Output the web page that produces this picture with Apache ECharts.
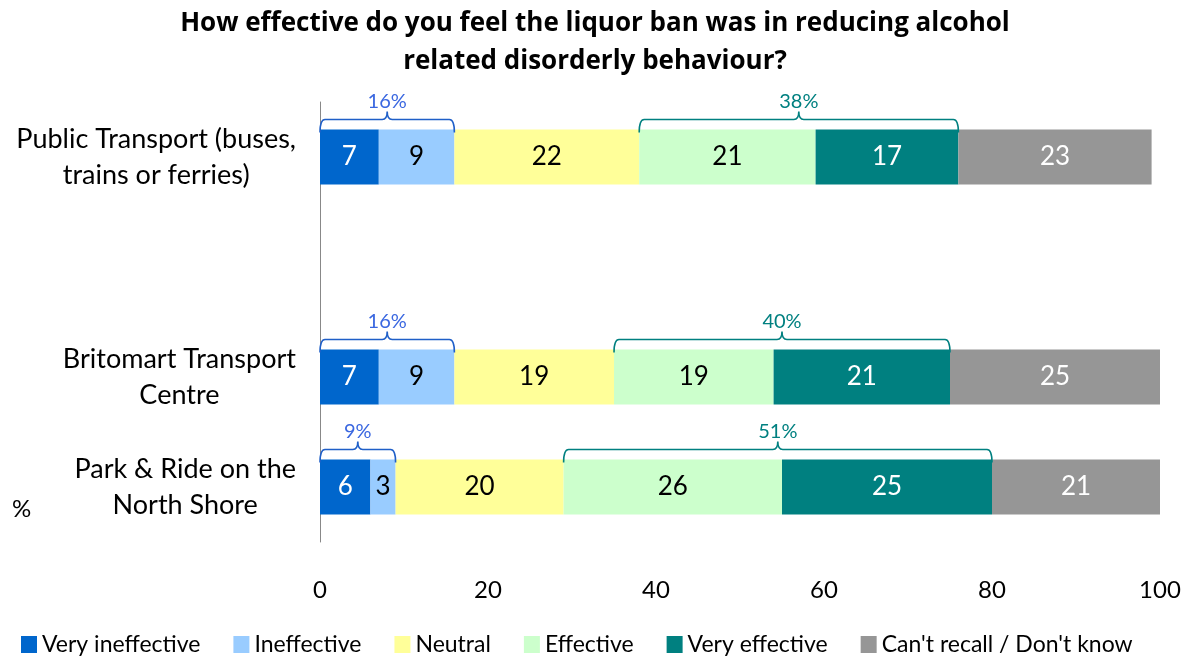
<!DOCTYPE html>
<html>
<head>
<meta charset="utf-8">
<title>Liquor ban effectiveness</title>
<script src="https://cdn.jsdelivr.net/npm/echarts@6/dist/echarts.min.js"></script>
<style>
  html, body { margin: 0; padding: 0; background: #fff; }
  #chart { width: 1188px; height: 658px; }
</style>
</head>
<body>
<div id="chart"></div>
<script>
// Locations, top to bottom; the empty entry keeps the gap under Public Transport.
const categories = [
  'Public Transport (buses,\ntrains or ferries)',
  '',
  'Britomart Transport\nCentre',
  'Park & Ride on the\nNorth Shore'
];
const seriesNames = ['Very ineffective', 'Ineffective', 'Neutral', 'Effective', 'Very effective', "Can't recall / Don't know"];
const veryIneffective = [7, null, 7, 6];
const ineffective     = [9, null, 9, 3];
const neutral         = [22, null, 19, 20];
const effective       = [21, null, 19, 26];
const veryEffective   = [17, null, 21, 25];
const cantRecall      = [23, null, 25, 21];
const xTicks = [0, 20, 40, 60, 80, 100];

const colors = ['#0066CC', '#99CCFF', '#FFFF99', '#CCFFCC', '#008080', '#969696'];
const labelColors = ['#fff', '#000', '#000', '#000', '#fff', '#fff'];
const FONT = 'Lato';

const values = [veryIneffective, ineffective, neutral, effective, veryEffective, cantRecall];

const barSeries = values.map((arr, i) => ({
  name: seriesNames[i],
  type: 'bar',
  stack: 'total',
  barWidth: '50%',
  itemStyle: { color: colors[i] },
  label: {
    show: true,
    position: 'inside',
    color: labelColors[i],
    fontFamily: FONT,
    fontSize: 26,
    formatter: p => (p.value == null ? '' : p.value)
  },
  emphasis: { disabled: true },
  data: arr
}));

// Net brackets: ineffective total (left) and effective total (right)
const brackets = [];
categories.forEach((c, k) => {
  if (veryIneffective[k] == null) return;
  const neg = veryIneffective[k] + ineffective[k];
  const posStart = neg + neutral[k];
  const pos = effective[k] + veryEffective[k];
  brackets.push({ value: [k, 0, neg, neg + '%'], color: '#3A67E0', line: '#1F5FC8' });
  brackets.push({ value: [k, posStart, posStart + pos, pos + '%'], color: '#008080', line: '#008080' });
});

const bracketSeries = {
  type: 'custom',
  coordinateSystem: 'cartesian2d',
  silent: true,
  z: 5,
  encode: { x: [1, 2], y: 0 },
  renderItem(params, api) {
    const k = api.value(0);
    const a = api.coord([api.value(1), k]);
    const b = api.coord([api.value(2), k]);
    const band = api.size([0, 1])[1];
    const top = a[1] - band * 0.25;
    const y = top - 10;
    const x0 = a[0], x1 = b[0], mid = (x0 + x1) / 2, r = 5;
    const item = brackets[params.dataIndex];
    const path = [
      'M', x0, top + 3,
      'Q', x0, y, x0 + r, y,
      'L', mid - r, y,
      'Q', mid, y, mid, y - 8,
      'Q', mid, y, mid + r, y,
      'L', x1 - r, y,
      'Q', x1, y, x1, top + 3
    ].join(' ');
    return {
      type: 'group',
      children: [
        {
          type: 'path',
          shape: { pathData: path },
          style: { fill: null, stroke: item.line, lineWidth: 1.6 }
        },
        {
          type: 'text',
          x: mid,
          y: y - 18,
          style: {
            text: api.value(3),
            fill: item.color,
            font: '20px ' + FONT,
            align: 'center',
            verticalAlign: 'middle'
          }
        }
      ]
    };
  },
  data: brackets.map(b => b.value)
};

const chart = echarts.init(document.getElementById('chart'));
chart.setOption({
  animation: false,
  title: {
    text: 'How effective do you feel the liquor ban was in reducing alcohol\nrelated disorderly behaviour?',
    left: 590,
    textAlign: 'center',
    top: 0,
    textStyle: { fontFamily: 'Open Sans', fontWeight: 'bold', fontSize: 26, lineHeight: 38, color: '#000' }
  },
  legend: {
    data: seriesNames,
    top: 628,
    left: 16,
    icon: 'rect',
    itemWidth: 16,
    itemHeight: 17,
    itemGap: 33,
    selectedMode: false,
    textStyle: { fontFamily: FONT, fontSize: 23, color: '#000' }
  },
  grid: { left: 320, right: 28, top: 102, bottom: 116, containLabel: false },
  xAxis: {
    type: 'value',
    min: xTicks[0],
    max: xTicks[xTicks.length - 1],
    interval: xTicks[1] - xTicks[0],
    axisLine: { show: false },
    axisTick: { show: false },
    splitLine: { show: false },
    axisLabel: { fontFamily: FONT, fontSize: 24, color: '#000', margin: 36 }
  },
  yAxis: {
    type: 'category',
    inverse: true,
    data: categories,
    axisLine: { show: true, lineStyle: { color: '#888', width: 1 } },
    axisTick: { show: false },
    axisLabel: {
      margin: 24,
      color: '#000',
      fontFamily: FONT,
      fontSize: 27,
      lineHeight: 36,
      formatter: v => v.split('\n').map(s => '{c|' + s + '}').join('\n'),
      rich: { c: { align: 'center', fontFamily: FONT, fontSize: 27, lineHeight: 36, color: '#000' } }
    }
  },
  graphic: [
    { type: 'text', left: 12, top: 497, style: { text: '%', font: '24px ' + FONT, fill: '#000' } }
  ],
  series: [...barSeries, bracketSeries]
});
</script>
</body>
</html>
